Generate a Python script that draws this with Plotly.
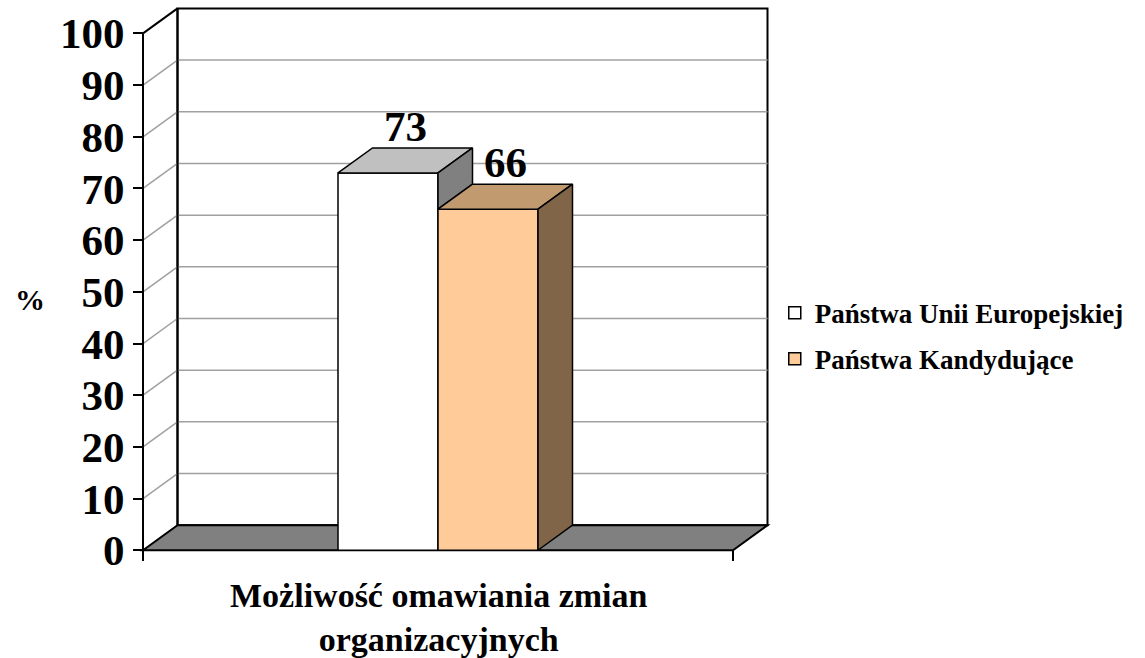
import plotly.graph_objects as go

# ---- data ----
categories = ["Możliwość omawiania zmian<br>organizacyjnych"]
series_names = ["Państwa Unii Europejskiej", "Państwa Kandydujące"]
values = [73, 66]
y_ticks = list(range(0, 101, 10))
y_title = "%"

# ---- style ----
front_colors = ["#FFFFFF", "#FFCC99"]
top_colors = ["#C0C0C0", "#C19A6F"]
side_colors = ["#808080", "#806548"]
FONT = "Liberation Serif, Times New Roman, serif"

# geometry (axis units): x unit = bar width, y unit = percent
GC = 2.95          # category center
BW = 1.0           # bar width
XR = 5.90          # right end of the floor front edge
DX = 0.345         # depth offset in x
DY = 4.84          # depth offset in y
XMIN, XMAX = -0.1, 6.35
YMIN, YMAX = -1.5, 105.5

fig = go.Figure()

centers = [GC - BW / 2 + BW * i for i in range(len(values))]

# front faces of bars
for i, v in enumerate(values):
    fig.add_trace(go.Bar(
        x=[centers[i]], y=[v], width=BW, name=series_names[i],
        legendgroup=str(i),
        marker=dict(color=front_colors[i], line=dict(color="black", width=1.5)),
        hoverinfo="skip",
    ))

# top and side faces
for i, v in enumerate(values):
    l = centers[i] - BW / 2
    r = centers[i] + BW / 2
    fig.add_trace(go.Scatter(
        x=[l, l + DX, r + DX, r, l], y=[v, v + DY, v + DY, v, v],
        fill="toself", fillcolor=top_colors[i], mode="lines",
        line=dict(color="black", width=1.5), showlegend=False, hoverinfo="skip"))
    lo = 0
    if i + 1 < len(values):
        lo = min(v, values[i + 1])
    if lo < v:
        fig.add_trace(go.Scatter(
            x=[r, r + DX, r + DX, r, r], y=[lo, lo + DY, v + DY, v, lo],
            fill="toself", fillcolor=side_colors[i], mode="lines",
            line=dict(color="black", width=1.5), showlegend=False, hoverinfo="skip"))

shapes = []
# back wall
shapes.append(dict(type="rect", xref="x", yref="y", x0=DX, x1=XR + DX, y0=DY, y1=100 + DY,
                   fillcolor="white", line=dict(color="black", width=2), layer="below"))
# gridlines on back wall + left wall diagonals
for t in y_ticks[1:-1]:
    shapes.append(dict(type="line", xref="x", yref="y", x0=DX, x1=XR + DX, y0=t + DY, y1=t + DY,
                       line=dict(color="#A0A0A0", width=1.5), layer="below"))
    shapes.append(dict(type="line", xref="x", yref="y", x0=0, x1=DX, y0=t, y1=t + DY,
                       line=dict(color="#A0A0A0", width=1.5), layer="below"))
shapes.append(dict(type="line", xref="x", yref="y", x0=0, x1=DX, y0=100, y1=100 + DY,
                   line=dict(color="black", width=2), layer="below"))
shapes.append(dict(type="line", xref="x", yref="y", x0=DX, x1=DX, y0=DY, y1=100 + DY,
                   line=dict(color="black", width=2), layer="below"))
# floor
shapes.append(dict(type="path", xref="x", yref="y",
                   path=f"M0,0 L{DX},{DY} L{XR + DX},{DY} L{XR},0 Z",
                   fillcolor="#808080", line=dict(color="black", width=2), layer="below"))
# front axis line
shapes.append(dict(type="line", xref="x", yref="y", x0=0, x1=0, y0=0, y1=100,
                   line=dict(color="black", width=2), layer="below"))

annotations = []
for i, v in enumerate(values):
    annotations.append(dict(x=centers[i] + DX / 2, y=v + DY, xref="x", yref="y",
                            text=str(v), showarrow=False, yanchor="bottom", yshift=-4,
                            font=dict(family=FONT, size=43, color="black", weight="bold")))
annotations.append(dict(x=GC, y=-0.03, xref="x", yref="paper", text=categories[0],
                        showarrow=False, yanchor="top", xanchor="center",
                        font=dict(family=FONT, size=34, color="black", weight="bold")))
annotations.append(dict(x=-0.16, y=0.467, xref="paper", yref="paper", text=y_title,
                        showarrow=False, xanchor="center", yanchor="middle",
                        font=dict(family=FONT, size=30, color="black", weight="bold")))

fig.update_layout(
    width=1145, height=658,
    margin=dict(l=133, r=367, t=5, b=100),
    paper_bgcolor="white", plot_bgcolor="white",
    barmode="overlay",
    shapes=shapes, annotations=annotations,
    showlegend=True,
    legend=dict(x=0.995, y=0.487, xanchor="left", yanchor="top",
                font=dict(family=FONT, size=27, color="black", weight="bold"),
                tracegroupgap=8, bgcolor="rgba(0,0,0,0)", traceorder="grouped"),
    xaxis=dict(range=[XMIN, XMAX], tickvals=[0, XR], showticklabels=False,
               ticks="outside", ticklen=10, tickwidth=1.5, tickcolor="black",
               showgrid=False, zeroline=False, showline=False,
               anchor="free", position=(0 - YMIN) / (YMAX - YMIN)),
    yaxis=dict(range=[YMIN, YMAX], tickvals=y_ticks,
               ticks="outside", ticklen=10, tickwidth=1.5, tickcolor="black",
               showgrid=False, zeroline=False, showline=False,
               anchor="free", position=(0 - XMIN) / (XMAX - XMIN),
               tickfont=dict(family=FONT, size=43, color="black", weight="bold")),
)

fig.write_html("out.html", config={"displayModeBar": False},
               post_script="document.body.style.margin='0';document.body.style.padding='0';")
